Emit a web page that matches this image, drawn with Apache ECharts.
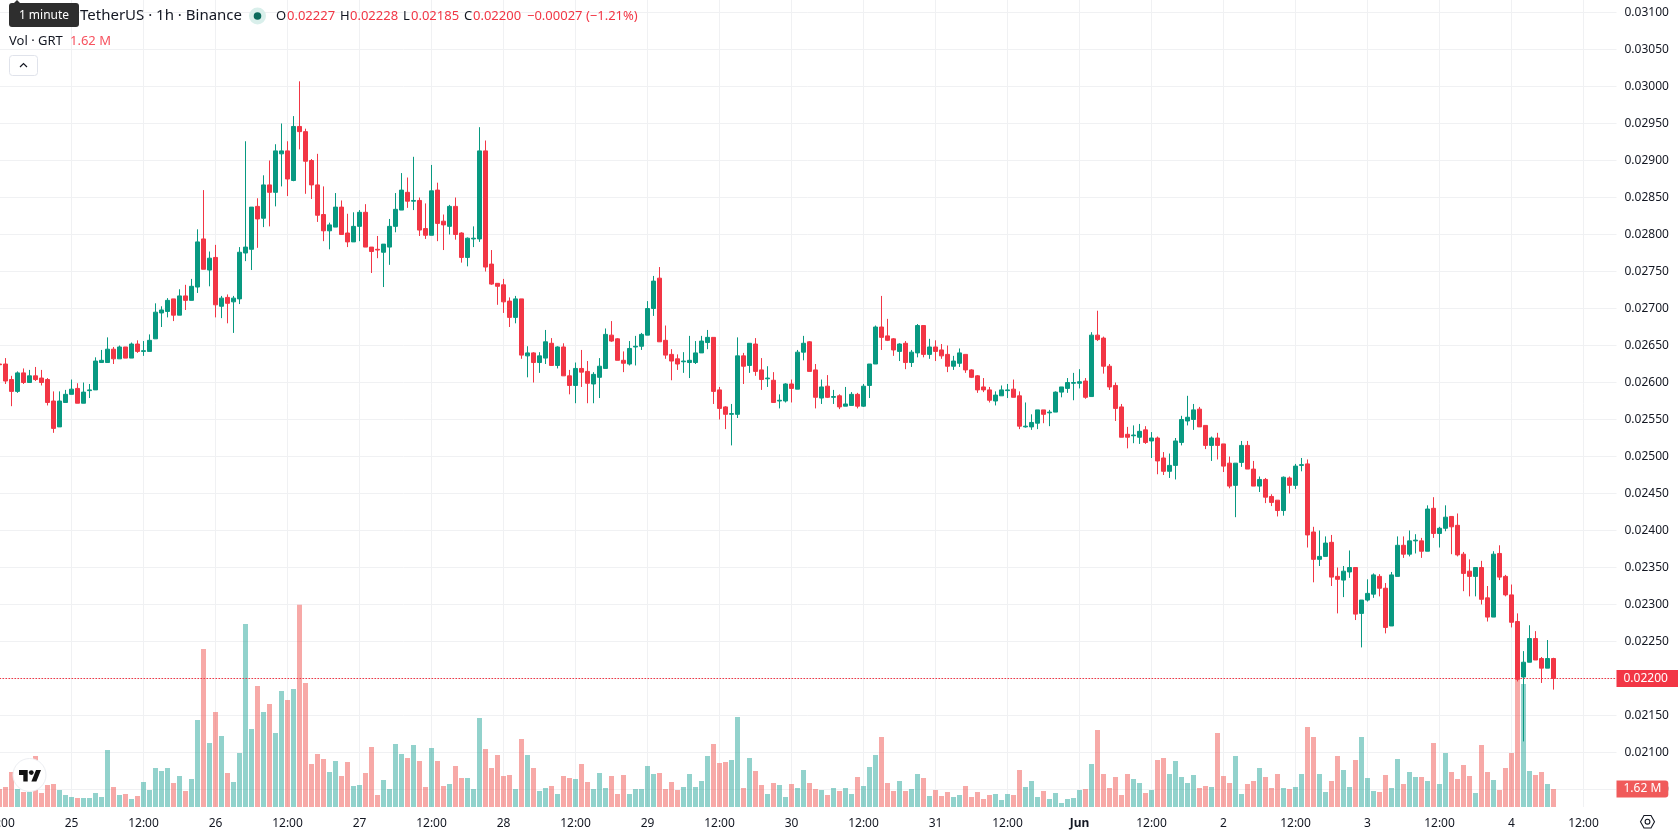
<!DOCTYPE html>
<html>
<head>
<meta charset="utf-8">
<title>GRT / TetherUS 1h</title>
<style>html,body{margin:0;padding:0;background:#fff}#chart{width:1678px;height:835px}</style>
<script src="https://cdn.jsdelivr.net/npm/echarts@6/dist/echarts.min.js"></script>
</head>
<body>
<div id="chart"></div>
<script>
// Hourly candles, one row per 12 hours, prices in units of 0.00001 USDT.
const opens = [
2625,2625,2604,2588,2613,2600,2609,2606,2604,2575,2540,2573,
2584,2592,2572,2589,2590,2627,2627,2645,2632,2648,2633,2652,
2642,2642,2659,2694,2696,2713,2691,2717,2711,2729,2794,2752,
2769,2703,2715,2709,2713,2775,2780,2838,2822,2867,2857,2909,
2913,2873,2946,2939,2900,2867,2827,2805,2810,2837,2802,2790,
2811,2830,2783,2780,2776,2783,2811,2833,2857,2845,2846,2808,
2799,2860,2818,2811,2838,2802,2769,2794,2794,2913,2760,2734,
2732,2710,2688,2713,2636,2640,2627,2633,2653,2623,2648,2609,
2596,2619,2615,2598,2607,2619,2664,2659,2630,2625,2648,2649,
2664,2700,2741,2657,2638,2632,2628,2627,2627,2640,2654,2661,
2590,2567,2557,2557,2636,2623,2652,2617,2605,2603,2575,2575,
2598,2591,2641,2655,2617,2579,2595,2580,2582,2568,2569,2584,
2568,2596,2625,2675,2663,2659,2642,2653,2627,2640,2677,2638,
2648,2644,2638,2622,2626,2638,2617,2609,2594,2590,2575,2582,
2589,2591,2582,2540,2540,2545,2563,2559,2560,2587,2592,2599,
2599,2602,2581,2664,2660,2622,2596,2567,2530,2528,2526,2536,
2521,2525,2498,2480,2488,2519,2548,2550,2564,2542,2515,2525,
2517,2491,2461,2492,2515,2483,2460,2469,2446,2441,2427,2471,
2461,2488,2490,2398,2361,2365,2384,2338,2333,2344,2350,2288,
2306,2314,2338,2322,2271,2338,2380,2368,2386,2386,2372,2430,
2396,2403,2419,2407,2368,2345,2338,2350,2309,2283,2369,2338,
2313,2277,2202,2222,2254,2227,2214,2227];
const closes = [
2624,2602,2588,2613,2600,2609,2604,2600,2573,2538,2575,2584,
2591,2572,2587,2590,2629,2630,2645,2632,2648,2633,2652,2642,
2643,2657,2695,2698,2711,2691,2717,2711,2730,2790,2753,2768,
2705,2714,2707,2714,2776,2783,2837,2821,2867,2857,2913,2913,
2875,2946,2939,2899,2867,2826,2805,2813,2837,2800,2790,2811,
2830,2783,2777,2779,2787,2811,2834,2860,2845,2846,2806,2799,
2859,2815,2813,2838,2800,2769,2795,2795,2913,2756,2733,2730,
2709,2688,2713,2637,2640,2627,2636,2655,2623,2648,2609,2596,
2619,2614,2599,2611,2622,2665,2656,2630,2626,2646,2649,2665,
2700,2737,2655,2637,2629,2625,2629,2630,2640,2656,2661,2588,
2565,2557,2558,2636,2622,2653,2615,2604,2606,2573,2576,2598,
2592,2641,2653,2615,2580,2594,2580,2581,2567,2571,2584,2568,
2595,2625,2675,2661,2657,2644,2652,2627,2641,2677,2638,2648,
2642,2636,2622,2629,2640,2617,2607,2590,2590,2576,2583,2590,
2590,2580,2541,2541,2546,2563,2557,2560,2587,2594,2600,2600,
2601,2580,2664,2658,2622,2594,2565,2526,2526,2529,2534,2519,
2525,2494,2480,2488,2521,2550,2553,2563,2540,2515,2525,2515,
2487,2460,2491,2515,2483,2460,2469,2445,2438,2427,2472,2461,
2487,2489,2394,2361,2365,2383,2337,2334,2345,2350,2287,2306,
2315,2340,2322,2269,2340,2380,2368,2386,2387,2372,2429,2396,
2403,2418,2405,2367,2342,2338,2350,2307,2283,2368,2337,2313,
2276,2199,2222,2254,2225,2214,2227,2200];
const highs = [
2626,2633,2609,2615,2619,2617,2621,2617,2606,2588,2588,2590,
2604,2599,2600,2598,2634,2644,2661,2648,2650,2648,2654,2657,
2656,2665,2707,2703,2714,2713,2726,2732,2740,2807,2860,2777,
2786,2717,2719,2717,2783,2926,2837,2849,2880,2900,2922,2950,
2926,2960,3007,2943,2902,2909,2865,2816,2856,2846,2828,2830,
2833,2841,2783,2798,2787,2821,2856,2883,2877,2905,2850,2842,
2894,2870,2827,2840,2850,2803,2796,2811,2945,2927,2779,2734,
2740,2715,2717,2713,2649,2641,2641,2671,2660,2649,2653,2617,
2627,2644,2629,2614,2633,2673,2683,2660,2642,2656,2663,2667,
2710,2744,2756,2677,2645,2638,2641,2663,2656,2663,2671,2661,
2594,2568,2571,2661,2640,2653,2660,2633,2622,2614,2584,2599,
2604,2644,2663,2656,2625,2604,2610,2590,2584,2594,2587,2586,
2598,2625,2677,2717,2686,2660,2653,2656,2644,2679,2677,2659,
2657,2652,2650,2636,2646,2638,2618,2610,2606,2594,2588,2596,
2598,2604,2588,2573,2557,2563,2563,2563,2588,2594,2606,2613,
2618,2606,2668,2697,2662,2625,2600,2571,2540,2542,2544,2541,
2533,2527,2506,2504,2525,2555,2582,2571,2567,2542,2527,2532,
2517,2500,2491,2521,2521,2494,2473,2471,2449,2441,2473,2473,
2490,2498,2496,2405,2400,2392,2394,2350,2352,2373,2350,2306,
2334,2342,2341,2329,2344,2392,2392,2400,2395,2390,2434,2445,
2405,2434,2419,2423,2371,2361,2350,2359,2325,2372,2380,2340,
2327,2288,2237,2272,2264,2229,2252,2228];
const lows = [
2623,2598,2568,2586,2598,2600,2602,2596,2569,2532,2540,2573,
2584,2572,2572,2579,2590,2627,2627,2625,2632,2633,2633,2640,
2636,2642,2659,2675,2688,2683,2691,2698,2711,2721,2753,2730,
2688,2687,2680,2667,2706,2764,2752,2782,2810,2811,2838,2865,
2852,2872,2915,2855,2848,2817,2791,2780,2810,2800,2783,2790,
2791,2783,2748,2768,2729,2759,2803,2833,2836,2833,2798,2794,
2799,2791,2779,2800,2793,2762,2757,2783,2790,2750,2732,2705,
2694,2675,2680,2632,2607,2600,2613,2625,2623,2619,2609,2584,
2572,2594,2572,2572,2579,2619,2655,2630,2614,2623,2623,2644,
2664,2690,2655,2632,2603,2617,2613,2606,2625,2640,2645,2571,
2550,2537,2515,2552,2598,2613,2609,2590,2594,2573,2565,2573,
2573,2591,2630,2615,2565,2571,2579,2571,2564,2568,2569,2565,
2567,2579,2625,2644,2656,2636,2629,2618,2621,2634,2634,2632,
2629,2632,2614,2617,2621,2613,2606,2586,2587,2573,2569,2582,
2579,2580,2537,2539,2536,2537,2545,2541,2560,2580,2586,2576,
2592,2578,2581,2656,2612,2590,2548,2526,2511,2518,2517,2517,
2498,2476,2475,2471,2469,2515,2542,2536,2540,2510,2494,2496,
2479,2457,2418,2486,2483,2460,2452,2437,2433,2419,2420,2450,
2456,2480,2377,2330,2352,2365,2325,2288,2310,2336,2279,2242,
2304,2309,2311,2261,2271,2338,2363,2365,2369,2363,2372,2390,
2377,2399,2368,2365,2318,2311,2311,2300,2277,2283,2333,2311,
2269,2196,2115,2222,2225,2194,2214,2185];
// Traded volume per hour, in millions of GRT.
const volumes = [
1.62,1.80,3.15,1.62,1.35,1.35,4.59,1.26,1.98,2.07,1.53,1.08,
0.90,0.81,0.81,0.81,1.26,0.90,5.13,1.80,1.08,1.17,0.72,0.99,
2.25,1.53,3.51,3.24,3.51,2.16,2.79,1.44,2.52,7.83,14.22,5.76,
8.55,6.39,3.06,2.25,4.86,16.47,7.02,10.89,8.55,9.27,6.66,10.44,
9.63,10.62,18.20,11.16,3.87,4.77,4.32,3.15,4.14,2.79,4.05,1.89,
1.98,3.06,5.40,1.08,2.43,1.62,5.67,4.77,4.41,5.58,4.14,1.80,
5.31,4.14,1.89,2.07,3.69,2.61,2.61,1.62,8.01,5.22,3.51,4.68,
2.79,2.88,1.62,6.12,4.68,3.51,1.44,1.71,1.89,1.17,2.79,2.61,
2.52,3.87,2.25,1.62,3.06,1.71,2.79,1.17,2.88,1.17,1.62,1.62,
3.69,2.97,3.06,1.62,2.25,1.53,1.80,2.97,1.80,2.34,4.59,5.67,
3.96,4.05,4.23,8.10,1.71,4.41,3.24,1.98,1.17,2.16,1.98,0.90,
2.07,1.71,3.33,2.16,1.62,1.53,1.08,1.71,1.44,1.71,1.17,2.70,
1.89,3.60,4.68,6.30,2.16,1.44,2.34,1.44,1.62,2.97,2.61,0.99,
1.53,0.99,1.35,0.90,1.08,1.89,0.90,1.35,0.72,1.08,1.17,0.63,
1.17,1.08,3.33,1.80,2.34,0.90,1.44,0.72,1.26,0.36,0.72,0.81,
1.53,1.62,3.87,6.93,2.97,1.71,2.70,1.08,2.97,2.52,2.16,1.26,
1.53,4.23,4.41,2.97,4.14,2.70,2.16,2.88,1.71,1.89,1.80,6.66,
2.79,2.16,4.59,1.17,2.07,2.34,3.51,2.70,1.71,2.97,1.71,1.62,
1.80,2.97,7.20,6.30,2.97,1.35,2.34,4.59,3.33,1.80,4.23,6.30,
2.61,1.44,1.35,2.88,1.71,4.32,2.07,3.15,2.70,2.70,2.34,5.76,
2.07,4.86,3.15,2.52,3.78,2.79,1.26,5.58,3.15,2.43,1.53,3.51,
4.86,12.03,11.07,3.24,2.88,3.15,2.07,1.62];
// Time scale labels, one every 12 hours; the first sits half off the left edge.
const tickLabels = ['12:00','25','12:00','26','12:00','27','12:00','28','12:00','29','12:00','30',
  '12:00','31','12:00','Jun','12:00','2','12:00','3','12:00','4','12:00'];
const priceTicks = { min: 2050, max: 3150, step: 50 };

const UP = '#089981', DOWN = '#F23645', INK = '#131722', GRID = '#f0f1f3';
const FONT = '"Noto Sans", sans-serif';
const SLOTS = 270;               // hourly slots on the time scale, including the empty right margin
const hours = Array.from({ length: SLOTS }, (_, k) => String(k));
const fmtPrice = v => (v / 1e5).toFixed(5);
const fmtVol = v => v.toFixed(2) + ' M';

const last = closes.length - 1;
const change = closes[last] - opens[last];
const changePct = change / opens[last] * 100;
const minus = s => s.replace('-', '\u2212');

const candleData = opens.map((o, i) => [o, closes[i], lows[i], highs[i]]);
const volumeData = volumes.map((v, i) => ({
  value: v,
  itemStyle: { color: closes[i] >= opens[i] ? 'rgba(38,166,154,0.5)' : 'rgba(239,83,80,0.5)' }
}));

const headerText = (x, text, fill, size, extra) => ({
  type: 'text', x, y: extra && extra.y || 16, z: 50, silent: true,
  style: { text, fill, font: `${size || 13}px ${FONT}`, textVerticalAlign: 'middle', textAlign: extra && extra.align || 'left' }
});

const chart = echarts.init(document.getElementById('chart'), null, { renderer: 'canvas' });
chart.setOption({
  animation: false,
  backgroundColor: '#ffffff',
  textStyle: { fontFamily: FONT },
  grid: [
    { left: -3.5, width: 1620, top: -24.5, height: 814, outerBoundsMode: 'none' },
    { left: -3.5, width: 1620, top: 0, height: 807, outerBoundsMode: 'none' }
  ],
  xAxis: [
    { type: 'category', gridIndex: 0, data: hours, show: false },
    {
      type: 'category', gridIndex: 1, data: hours,
      axisLine: { show: false },
      axisTick: { show: false },
      splitLine: { show: true, alignWithLabel: true, interval: i => i % 12 === 0, lineStyle: { color: GRID, width: 1 } },
      axisLabel: {
        interval: i => i % 12 === 0, margin: 11, color: INK, fontSize: 12, fontFamily: FONT,
        formatter: (_, i) => {
          const t = tickLabels[i / 12];
          return t === 'Jun' ? '{b|Jun}' : t;
        },
        rich: { b: { fontWeight: 'bold', fontSize: 12, color: INK, fontFamily: FONT } }
      }
    }
  ],
  yAxis: [
    {
      type: 'value', gridIndex: 0, position: 'right', scale: true,
      min: priceTicks.min, max: priceTicks.max, interval: priceTicks.step,
      axisLine: { show: false }, axisTick: { show: false },
      splitLine: { lineStyle: { color: GRID, width: 1 } },
      axisLabel: { margin: 8, color: INK, fontSize: 12, fontFamily: FONT, formatter: fmtPrice }
    },
    { type: 'value', gridIndex: 1, min: 0, max: 72.63, show: false, splitLine: { show: false } }
  ],
  series: [
    {
      name: 'Vol', type: 'bar', xAxisIndex: 1, yAxisIndex: 1, z: 2, barWidth: 5,
      data: volumeData, silent: true,
      markLine: {
        silent: true, symbol: 'none', z: 9,
        lineStyle: { color: 'transparent', width: 0 },
        label: {
          show: true, position: 'end', distance: 0, formatter: p => fmtVol(p.value), color: '#fff', fontSize: 12, fontFamily: FONT,
          backgroundColor: '#f05a5a', borderRadius: [0, 3, 3, 0], padding: [3, 7, 2, 7]
        },
        data: [{ yAxis: volumes[last] }]
      }
    },
    {
      name: 'GRT/USDT', type: 'candlestick', xAxisIndex: 0, yAxisIndex: 0, z: 5, barWidth: 4, silent: true,
      data: candleData,
      itemStyle: { color: UP, color0: DOWN, borderColor: UP, borderColor0: DOWN, borderWidth: 1 },
      markLine: {
        silent: true, symbol: 'none', z: 8,
        lineStyle: { color: DOWN, type: [1.5, 1.5], width: 1 },
        label: {
          position: 'end', distance: 0, formatter: p => fmtPrice(p.value), color: '#fff', fontSize: 12, fontFamily: FONT,
          backgroundColor: DOWN, padding: [3, 12, 2, 7]
        },
        data: [{ yAxis: closes[last] }]
      }
    }
  ],
  graphic: [
    // symbol line, status dot and OHLC read-out
    headerText(80, 'TetherUS \u00b7 1h \u00b7 Binance', INK, 15),
    { type: 'circle', z: 50, silent: true, shape: { cx: 257.5, cy: 16, r: 8.5 }, style: { fill: '#d9efeb' } },
    { type: 'circle', z: 51, silent: true, shape: { cx: 257.5, cy: 16, r: 3.8 }, style: { fill: '#0b6b5c' } },
    headerText(276, 'O', INK), headerText(287, fmtPrice(opens[last]), DOWN),
    headerText(340, 'H', INK), headerText(350, fmtPrice(highs[last]), DOWN),
    headerText(403, 'L', INK), headerText(411, fmtPrice(lows[last]), DOWN),
    headerText(464, 'C', INK), headerText(473, fmtPrice(closes[last]), DOWN),
    headerText(527, minus(fmtPrice(change)) + ' (' + minus(changePct.toFixed(2)) + '%)', DOWN),
    // volume legend and collapse button
    headerText(9, 'Vol \u00b7 GRT', INK, 13, { y: 41 }),
    headerText(70, fmtVol(volumes[last]), '#f7525f', 13, { y: 41 }),
    { type: 'rect', z: 50, silent: true, shape: { x: 9.5, y: 55.5, width: 28, height: 20, r: 3 }, style: { fill: '#fff', stroke: '#e0e3eb', lineWidth: 1 } },
    { type: 'polyline', z: 51, silent: true, shape: { points: [[20, 67], [23.5, 63.5], [27, 67]] }, style: { stroke: INK, fill: 'none', lineWidth: 1.2 } },
    // interval tooltip
    { type: 'polygon', z: 60, silent: true, shape: { points: [[13, 4], [17, 0], [21, 4]] }, style: { fill: '#2e2e2e' } },
    { type: 'rect', z: 60, silent: true, shape: { x: 9, y: 3, width: 70, height: 24, r: 3 }, style: { fill: '#2e2e2e' } },
    { type: 'text', z: 61, silent: true, x: 44, y: 15.5, style: { text: '1 minute', fill: '#fff', font: `12px ${FONT}`, textAlign: 'center', textVerticalAlign: 'middle' } },
    // brand badge
    { type: 'circle', z: 50, silent: true, shape: { cx: 29.5, cy: 775, r: 16.5 }, style: { fill: '#fff', stroke: '#eceef2', lineWidth: 1 } },
    { type: 'polygon', z: 51, silent: true, shape: { points: [[19, 770], [27.7, 770], [27.7, 781.5], [23.3, 781.5], [23.3, 775], [19, 775]] }, style: { fill: '#111' } },
    { type: 'polygon', z: 51, silent: true, shape: { points: [[36, 770], [41, 770], [36.4, 781.5], [31.4, 781.5]] }, style: { fill: '#111' } },
    { type: 'circle', z: 51, silent: true, shape: { cx: 31.3, cy: 772.6, r: 2.4 }, style: { fill: '#111' } },
    // time scale settings icon
    { type: 'polygon', z: 50, silent: true, shape: { points: [[1640.5, 821.7], [1644, 815.5], [1651, 815.5], [1654.5, 821.7], [1651, 828], [1644, 828]] }, style: { fill: 'none', stroke: INK, lineWidth: 1.1 } },
    { type: 'circle', z: 50, silent: true, shape: { cx: 1647.5, cy: 821.7, r: 2.4 }, style: { fill: 'none', stroke: INK, lineWidth: 1.1 } }
  ]
});
</script>
</body>
</html>
